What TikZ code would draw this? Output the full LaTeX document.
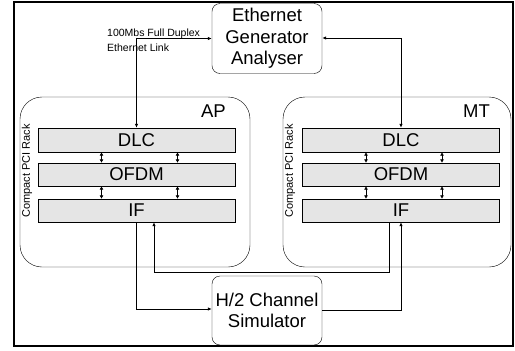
\documentclass[tikz,border=0pt]{standalone}
\usepackage{fontspec}
\setmainfont{Liberation Sans}
\usepackage{tikz}
\usetikzlibrary{arrows.meta}

\tikzset{
  unit/.style={draw, rounded corners=8, align=center, minimum width=110, minimum height=70, inner sep=0, font=\fontsize{18.5}{21.5}\selectfont},
  rack/.style={draw, rounded corners=22, minimum width=230, minimum height=170, inner sep=0},
  layer/.style={draw, fill=black!10, minimum width=197, minimum height=23, inner sep=0, font=\fontsize{18.5}{20}\selectfont},
  small/.style={anchor=base west, inner sep=0, font=\fontsize{10.5}{12}\selectfont},
  link/.style={-{Latex[length=4,width=3.5]}, line width=0.8},
  bus/.style={{Latex[length=3.5,width=4]}-{Latex[length=3.5,width=4]}, line width=0.8}
}

\begin{document}
\begin{tikzpicture}[x=1pt,y=-1pt]
\useasboundingbox (0,0) rectangle (515,351);
\draw[line width=2] (14,2) rectangle (513,346);

\node[unit] (eth) at (267,38.5) {Ethernet\\Generator\\Analyser};
\node[unit, minimum height=69] (chan) at (267,310.5) {H/2 Channel\\Simulator};

\node[rack] (aprack) at (135,182) {};
\node[rack, minimum width=228] (mtrack) at (397,182) {};
\node[anchor=base east, inner sep=0, font=\fontsize{18.5}{20}\selectfont] (aplabel) at (226,117) {AP};
\node[anchor=base east, inner sep=0, font=\fontsize{18.5}{20}\selectfont] (mtlabel) at (490,117) {MT};
\node[rotate=90, inner sep=0, font=\fontsize{11}{12}\selectfont] (apname) at (27,171) {Compact PCI Rack};
\node[rotate=90, inner sep=0, font=\fontsize{11}{12}\selectfont] (mtname) at (290,171) {Compact PCI Rack};

\node[layer, minimum height=24] (apdlc) at (136.5,140) {DLC};
\node[layer] (apofdm) at (136.5,174.5) {OFDM};
\node[layer] (apif) at (136.5,210.5) {IF};
\node[layer, minimum height=24] (mtdlc) at (401,140) {DLC};
\node[layer] (mtofdm) at (401,174.5) {OFDM};
\node[layer] (mtif) at (401,210.5) {IF};

% links between layers
\foreach \r in {ap,mt} {
  \foreach \dx in {-35,41} {
    \draw[bus] ([xshift=\dx]\r dlc.south) -- ([xshift=\dx]\r ofdm.north);
    \draw[bus] ([xshift=\dx]\r ofdm.south) -- ([xshift=\dx]\r if.north);
  }
}

% ethernet links
\draw[link, {Latex[length=4,width=3.5]}-{Latex[length=4,width=3.5]}] (apdlc.north) |- (eth.west);
\draw[link, {Latex[length=4,width=3.5]}-{Latex[length=4,width=3.5]}] (mtdlc.north) |- ([yshift=0.5]eth.east);
\node[small] (ethlabel) at (107,36) {100Mbs Full Duplex};
\node[small] (ethlabel2) at (107,51) {Ethernet Link};

% radio path
\draw[link] (apif.south) |- ([yshift=1.5]chan.west);
\draw[link] ([yshift=0.5]chan.east) -| (mtif.south);
\draw[link] ([xshift=-12]mtif.south) |- ++(0,50) -| ([xshift=17.5]apif.south);
\end{tikzpicture}
\end{document}
